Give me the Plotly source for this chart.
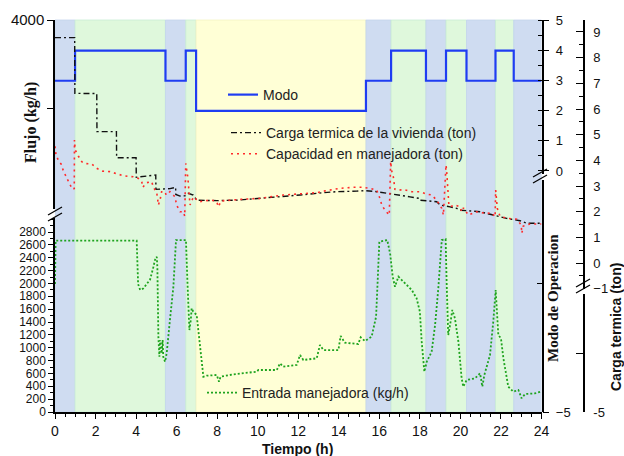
import plotly.graph_objects as go

# ---------------- data ----------------
# operating mode (step function, value holds until next time)
mode_t = [0, 0.99, 5.45, 6.45, 6.96, 15.34, 16.58, 18.3, 19.29, 20.3, 21.73, 22.63, 24]
mode_v = [3, 4, 3, 4, 2, 3, 4, 3, 4, 3, 4, 3, 3]

# Carga termica de la vivienda (ton)
carga_t = [0, 0.97, 0.98, 2.06, 2.07, 3.03, 3.04, 4.0, 4.01, 4.97, 4.98, 5.67, 5.95, 5.96,
           6.17, 6.41, 6.58, 6.82, 6.99, 7.98, 8.96, 10.11, 11.1, 12.09, 13.24, 13.9, 14.88,
           15.3, 15.87, 16.53, 17.02, 17.51, 17.97, 18.0, 18.83, 19.0, 19.49, 19.82, 19.98,
           20.31, 20.97, 21.62, 22.28, 22.94, 23.27, 24.0]
carga_v = [8.78, 8.78, 6.61, 6.6, 5.12, 5.12, 4.1, 4.1, 3.34, 3.43, 2.87, 2.9, 2.95, 2.67,
           2.61, 2.62, 2.72, 2.65, 2.45, 2.43, 2.45, 2.52, 2.58, 2.65, 2.74, 2.78, 2.8,
           2.82, 2.78, 2.71, 2.65, 2.58, 2.52, 2.45, 2.39, 2.26, 2.19, 2.13, 2.06,
           2.04, 2.0, 1.87, 1.74, 1.65, 1.55, 1.55]

# Capacidad en manejadora (ton)
cap_t = [0.0, 0.05, 0.2, 0.3, 0.41, 0.54, 0.71, 0.87, 0.95, 0.96, 1.0, 1.15, 1.32, 1.45, 1.81,
         2.06, 2.35, 2.71, 3.04, 3.37, 3.86, 4.1, 4.28, 4.33, 4.52, 4.77, 4.85, 5.02, 5.05,
         5.1, 5.18, 5.26, 5.43, 5.48, 5.67, 5.92, 6.0, 6.17, 6.33, 6.4, 6.45, 6.5, 6.55,
         6.58, 6.6, 6.63, 6.66, 6.83, 6.9, 7.15, 7.4, 7.73, 7.98, 8.06, 8.2, 9.13, 10.11,
         11.26, 12.09, 12.91, 13.24, 14.06, 14.72, 15.21, 15.6, 15.87, 16.03, 16.12, 16.28,
         16.49, 16.56, 16.6, 16.69, 16.72, 16.77, 16.99, 17.18, 17.6, 18.0, 18.33, 18.58,
         18.83, 19.08, 19.16, 19.29, 19.33, 19.36, 19.4, 19.43, 19.49, 19.73, 19.98, 20.06,
         20.15, 20.39, 20.8, 21.3, 21.54, 21.71, 21.74, 21.78, 21.82, 21.95, 22.28, 22.78,
         23.0, 23.03, 23.1, 23.43, 24.0]
cap_v = [4.55, 4.2, 3.95, 3.86, 3.6, 3.36, 3.1, 2.87, 2.9, 4.79, 4.4, 4.17, 3.95, 3.88, 3.86,
         3.69, 3.58, 3.56, 3.49, 3.4, 3.36, 3.3, 3.17, 2.95, 3.13, 3.17, 2.97, 2.72, 2.58,
         2.26, 2.45, 2.78, 2.78, 2.65, 2.78, 2.58, 2.26, 2.0, 2.0, 1.83, 3.88, 3.69, 3.36,
         3.08, 2.74, 2.58, 2.26, 2.58, 2.52, 2.39, 2.43, 2.45, 2.39, 2.19, 2.42, 2.48, 2.52,
         2.65, 2.71, 2.74, 2.8, 2.91, 2.95, 2.95, 2.9, 2.84, 2.52, 2.26, 2.06,
         1.87, 3.95, 3.62, 3.36, 3.1, 2.87, 2.84, 2.87, 2.78, 2.78, 2.69, 2.65,
         2.45, 2.13, 1.87, 3.82, 3.49, 3.1, 2.71, 2.26, 2.19, 2.26, 2.19, 2.0,
         2.15, 1.87, 2.0, 1.93, 1.96, 1.8, 2.84, 2.45, 2.13, 1.83, 1.74, 1.71,
         1.48, 1.16, 1.44, 1.52, 1.52]

# Entrada manejadora (kg/h)
ent_t = [0, 0.03, 4.03, 4.1, 4.2, 4.35, 4.5, 4.69, 4.85, 4.93, 5.02, 5.05, 5.1, 5.15, 5.18,
         5.26, 5.31, 5.34, 5.43, 5.51, 5.67, 5.84, 5.97, 6.46, 6.53, 6.58, 6.63, 6.7, 6.74,
         6.82, 6.99, 7.07, 7.15, 7.24, 7.32, 7.48, 7.98, 8.09, 8.17, 8.8, 9.95, 10.03, 10.94,
         11.1, 11.26, 11.92, 12.09, 12.25, 12.91, 13.07, 13.24, 13.98, 14.09, 14.3, 14.96,
         15.08, 15.29, 15.62, 15.84, 15.92, 16.0, 16.39, 16.53, 16.66, 16.77, 16.94, 17.27,
         17.6, 17.84, 18.0, 18.09, 18.22, 18.34, 18.58, 18.75, 18.91, 19.08, 19.27, 19.32,
         19.4, 19.49, 19.6, 19.73, 19.9, 20.06, 20.14, 20.31, 20.72, 20.97, 21.08, 21.18,
         21.46, 21.62, 21.74, 21.87, 22.0, 22.12, 22.36, 22.61, 22.86, 23.02, 23.19, 23.68,
         23.93, 24.0]
ent_v = [1990, 2665, 2665, 1990, 1900, 1920, 1980, 2060, 2250, 2364, 2415, 2260, 1171, 860, 1120,
         913, 1120, 860, 782, 913, 1431, 1949, 2675, 2675, 2053, 1535, 1275, 1431, 1613,
         1561, 1509, 1275, 1016, 705, 549, 565, 576, 472, 549, 586, 627, 653, 653,
         757, 705, 731, 887, 809, 835, 1042, 964, 964, 1182, 1078, 1058,
         1162, 1104, 1171, 1482, 2053, 2649, 2675, 2468, 2105, 1949, 2105, 2002,
         1898, 1768, 1560, 1094, 627, 782, 938, 1353, 1924, 2675, 2690, 2027,
         1198, 1353, 1587, 1457, 1094, 524, 394, 498, 524, 602, 394, 576,
         887, 1405, 1898, 1198, 1146, 835, 394, 316, 342, 213, 280, 290,
         316, 320]

x_ticks = list(range(0, 25, 2))
flow_ticks = list(range(0, 2801, 200))
modo_ticks = [0, 1, 2, 3, 4, 5]
carga_ticks = [-1, 0, 1, 2, 3, 4, 5, 6, 7, 8, 9]

# ---------------- geometry helpers ----------------
W, H = 624, 456
ML, MR, MT, MB = 55, 40, 20, 44
PW, PH = W - ML - MR, H - MT - MB


def fx(px):
    return (px - ML) / PW


def fy(py):
    return (H - MB - py) / PH


SANS = "Arial, Liberation Sans, sans-serif"
SERIF = "Times New Roman, Liberation Serif, serif"
AX = dict(showgrid=False, zeroline=False, showline=True, linecolor="black", linewidth=1.5,
          tickcolor="black", tickwidth=1.2, tickfont=dict(family=SANS, size=13, color="#111"))

fig = go.Figure()

fig.add_trace(go.Scatter(x=mode_t, y=mode_v, mode="lines", line_shape="hv", name="Modo",
                         yaxis="y2", line=dict(color="#1f3df2", width=2.2), legend="legend",
                         showlegend=True))
fig.add_trace(go.Scatter(x=carga_t, y=carga_v, mode="lines", name="Carga termica de la vivienda (ton)",
                         yaxis="y4", line=dict(color="#111111", width=1.4, dash="6px,3px,2px,3px"),
                         legend="legend2", showlegend=True))
fig.add_trace(go.Scatter(x=cap_t, y=cap_v, mode="lines", name="Capacidad en manejadora (ton)",
                         yaxis="y4", line=dict(color="#ff2a2a", width=1.6, dash="2px,4px"),
                         legend="legend2", showlegend=True))
fig.add_trace(go.Scatter(x=ent_t, y=ent_v, mode="lines", name="Entrada manejadora (kg/h)",
                         yaxis="y", line=dict(color="#1ea31e", width=1.8, dash="2px,2px"),
                         legend="legend3", showlegend=True))
# empty traces so that the broken-axis segments (no data of their own) are drawn
for ya in ("y5", "y3", "y6"):
    fig.add_trace(go.Scatter(x=[], y=[], yaxis=ya, mode="lines", showlegend=False,
                             hoverinfo="skip"))

# shaded operating-mode regions
fill = {2: "#ffffd6", 3: "#cfdcf1", 4: "#dff8dc"}
edge = {2: "#f4f4c4", 3: "#c4d4ec", 4: "#c8ecd4"}
shapes = []
for i in range(len(mode_t) - 1):
    m = mode_v[i]
    shapes.append(dict(type="rect", xref="x", yref="paper", x0=mode_t[i], x1=mode_t[i + 1],
                       y0=0, y1=1, fillcolor=fill[m], line=dict(width=0.8, color=edge[m]),
                       layer="below"))


# axis break marks
def brk(cx, cy):
    out = []
    for dy in (-3, 3):
        out.append(dict(type="line", xref="paper", yref="paper",
                        x0=fx(cx - 7), y0=fy(cy + dy + 4), x1=fx(cx + 7), y1=fy(cy + dy - 4),
                        line=dict(color="black", width=1.3)))
    return out


shapes += brk(55, 214) + brk(540, 176) + brk(583, 286)

LEG = dict(xanchor="left", yanchor="middle", bgcolor="rgba(0,0,0,0)",
           font=dict(family=SANS, size=14, color="#222"))

fig.update_layout(
    width=W, height=H, margin=dict(l=ML, r=MR, t=MT, b=MB),
    paper_bgcolor="white", plot_bgcolor="rgba(0,0,0,0)", showlegend=True,
    font=dict(family=SANS, size=13, color="#111"),
    shapes=shapes,
    xaxis=dict(AX, domain=[0, fx(541.5)], range=[0, 24], anchor="y", tickvals=x_ticks,
               ticks="outside", ticklen=5, tickfont=dict(family=SANS, size=14, color="#111"),
               minor=dict(dtick=0.5, ticks="outside", ticklen=3, tickcolor="black")),
    yaxis=dict(AX, domain=[0, fy(218)], range=[0, 194 / (180 / 2800)], anchor="x",
               tickvals=flow_ticks, ticks="outside", ticklen=5,
               tickfont=dict(family=SANS, size=12, color="#111"),
               minor=dict(dtick=100, ticks="outside", ticklen=3, tickcolor="black")),
    yaxis5=dict(AX, domain=[fy(209), 1], range=[4000 - 189 / (88 / 500), 4000], anchor="x",
                tickvals=[3500, 4000], ticktext=["", "4000"], ticks="outside", ticklen=6,
                tickfont=dict(family=SANS, size=15, color="#111")),
    yaxis2=dict(AX, domain=[fy(174), 1], range=[-0.1, 5.02], anchor="x", side="right",
                tickvals=modo_ticks, ticks="outside", ticklen=6, ticklabelstandoff=4,
                minor=dict(dtick=0.5, ticks="inside", ticklen=4, tickcolor="black")),
    yaxis3=dict(AX, domain=[0, fy(180)], range=[-5, 0], anchor="x", side="right",
                tickvals=[-5], ticks="outside", ticklen=6, ticklabelstandoff=4,
                minor=dict(tickvals=[-2.22], ticks="inside", ticklen=5, tickcolor="black")),
    yaxis4=dict(AX, domain=[fy(289), 1], range=[-1.01, 9.466], anchor="free", position=1.0,
                side="right", tickvals=carga_ticks, ticks="inside", ticklen=7, ticklabelstandoff=6,
                minor=dict(dtick=0.5, ticks="inside", ticklen=4, tickcolor="black")),
    yaxis6=dict(AX, domain=[0, fy(294)], range=[-5, -1.0], anchor="free", position=1.0,
                side="right", tickvals=[-5, -3], ticktext=["-5", ""], ticks="inside", ticklen=7,
                ticklabelstandoff=6),
    legend=dict(LEG, x=fx(223), y=fy(95)),
    legend2=dict(LEG, x=fx(226), y=fy(143.5)),
    legend3=dict(LEG, x=fx(202), y=fy(393)),
    annotations=[
        dict(text="<b>Flujo (kg/h)</b>", x=fx(31), y=fy(123), xref="paper", yref="paper",
             xanchor="center", yanchor="middle", textangle=-90, showarrow=False,
             font=dict(family=SERIF, size=16, color="#111")),
        dict(text="<b>Modo de Operacion</b>", x=fx(553), y=fy(298), xref="paper", yref="paper",
             xanchor="center", yanchor="middle", textangle=-90, showarrow=False,
             font=dict(family=SERIF, size=15, color="#111")),
        dict(text="<b>Carga termica (ton)</b>", x=fx(616), y=fy(327), xref="paper", yref="paper",
             xanchor="center", yanchor="middle", textangle=-90, showarrow=False,
             font=dict(family=SANS, size=14, color="#111")),
        dict(text="<b>Tiempo (h)</b>", x=fx(297), y=fy(449), xref="paper", yref="paper",
             xanchor="center", yanchor="middle", showarrow=False,
             font=dict(family=SANS, size=14, color="#111")),
    ],
)

fig.write_html("out.html")
